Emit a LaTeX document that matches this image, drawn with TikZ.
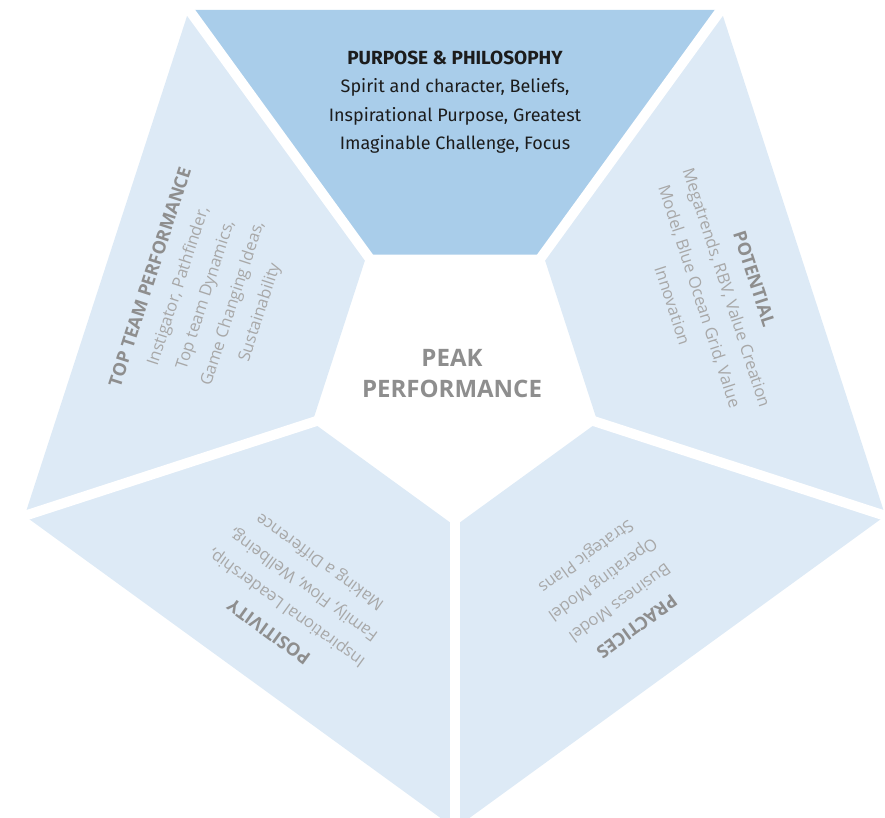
\documentclass[tikz,border=0pt]{standalone}
\usepackage{fontspec}
\setmainfont{Open Sans}
\newfontfamily\headfont{Fira Sans}
\usetikzlibrary{calc}
\definecolor{seg_dark}{RGB}{169, 205, 234}
\definecolor{seg_light}{RGB}{221, 234, 246}
\definecolor{txt_grey}{RGB}{168, 168, 168}
\definecolor{ttl_grey}{RGB}{142, 142, 142}
\definecolor{txt_black}{RGB}{28, 28, 28}
\tikzset{
  seg_n/.style = {align=center, inner sep=0pt, text centered},
  seg_top/.style = {seg_n, text=txt_black, font=\headfont\fontsize{18}{28.5}\selectfont},
  seg_side/.style = {seg_n, text=txt_grey, font=\fontsize{16.5}{28.5}\selectfont},
  hub/.style = {seg_n, text=ttl_grey, font=\bfseries\fontsize{24}{31}\selectfont}
}
\newcommand{\segtitle}[1]{{\bfseries\fontsize{18}{28.5}\selectfont\color{ttl_grey}#1}}

\begin{document}
\begin{tikzpicture}[x=1pt, y=1pt,
        light/.style={fill=seg_light},
        dark/.style={fill=seg_dark},
        gap/.style={draw=white, line width=10pt}]
    \useasboundingbox (-455,-442) rectangle (430,376);
    % five trapezoids between the inner and outer pentagon
    \foreach \a/\c in {90/dark, 162/light, 234/light, 306/light, 18/light}
        \fill[\c] (\a-36:150) -- (\a-36:452.5) -- (\a+36:452.5) -- (\a+36:150) -- cycle;
    \foreach \a in {54, 126, 198, 270, 342}
        \draw[gap] (0,0) -- (\a:470);

    \node [seg_top] (purpose) at (90:274)
        {{\bfseries\fontsize{19}{28.5}\selectfont PURPOSE \& PHILOSOPHY}\\Spirit and character, Beliefs,\\
         Inspirational Purpose, Greatest\\Imaginable Challenge, Focus};
    \node [seg_side, rotate=72] (team) at (162:262)
        {\segtitle{TOP TEAM PERFORMANCE}\\Instigator, Pathfinder,\\Top team Dynamics,\\
         Game Changing Ideas,\\Sustainability};
    \node [seg_side, rotate=144] (positivity) at (234:272)
        {\segtitle{POSITIVITY}\\Inspirational Leadership,\\Family, Flow, Wellbeing,\\
         Making a Difference};
    \node [seg_side, rotate=216] (practices) at (306:265)
        {\segtitle{PRACTICES}\\Business Model\\Operating Model\\Strategic Plans};
    \node [seg_side, rotate=-72] (potential) at (18:272)
        {\segtitle{POTENTIAL}\\Megatrends, RBV, Value Creation\\
         Model, Blue Ocean Grid, Value\\Innovation};
    \node [hub] (peak) at (-3,2.5) {PEAK\\PERFORMANCE};
\end{tikzpicture}
\end{document}
